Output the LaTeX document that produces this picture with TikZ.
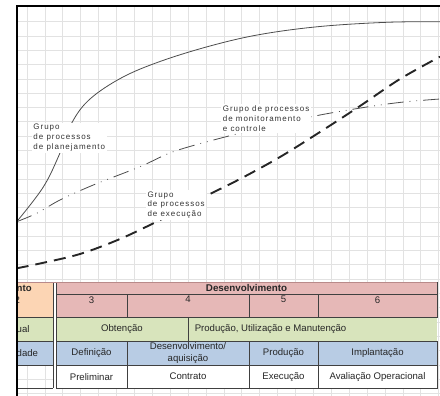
\documentclass[tikz,border=0pt]{standalone}
\usepackage{fontspec}
\setmainfont{Liberation Sans}
\newfontfamily\grupofont[LetterSpace=12]{Liberation Sans}
\usepackage{tikz}
\usetikzlibrary{positioning}
\definecolor{cellpink}{HTML}{E6B8B7}
\definecolor{cellorange}{HTML}{FCD5B4}
\definecolor{cellgreen}{HTML}{D8E4BC}
\definecolor{cellblue}{HTML}{B8CCE4}
\definecolor{gridgray}{HTML}{E2E2E2}
\definecolor{tabline}{HTML}{404040}
\definecolor{rosa}{HTML}{B98A8A}

\begin{document}
\begin{tikzpicture}[x=1pt,y=-1pt,
    cell/.style={draw=tabline,line width=0.8pt,inner sep=0pt,align=center,
      text=black!85,font=\fontsize{9.6}{11.6}\selectfont},
    tabtxt/.style={inner sep=0pt,text=black!85,font=\fontsize{9.6}{11.6}\selectfont},
    grupo/.style={fill=white,inner sep=1.5pt,anchor=north west,align=left,
      text=black!80,font=\grupofont\fontsize{8}{9.8}\selectfont}]
  \useasboundingbox (0,0) rectangle (440,396);
  % grade da planilha
  \foreach \i in {0,...,23}
    \draw[gridgray,line width=0.7pt] (27+17.9*\i,6) -- (27+17.9*\i,396);
  \foreach \j in {1,...,27}
    \draw[gridgray,line width=0.7pt] (16,7.4+14.3*\j) -- (440,7.4+14.3*\j);

  % curvas dos grupos de processos
  \draw[black!70,line width=0.8pt] plot[smooth,tension=0.6] coordinates {
    (16.7,221.7) (43.3,187) (60,153) (72.3,122) (90,99) (121.7,77.7)
    (160,61.5) (210,46) (260,34.5) (320,26.5) (387,22.3) (440,21.7)};
  \draw[black!70,line width=0.8pt,
    dash pattern=on 16pt off 6pt on 0.8pt off 6pt on 0.8pt off 6pt]
    plot[smooth,tension=0.55] coordinates {
    (16.7,221.7) (36.7,213.3) (60,200) (93.3,185) (140,166.7)
    (173.3,151.7) (220,138.3) (270,126) (320,115) (373.3,106)
    (406.7,101.7) (440,99)};
  \draw[black!85,line width=1.9pt,dash pattern=on 12pt off 7pt]
    plot[smooth,tension=0.55] coordinates {
    (16.7,268.3) (40,263.5) (80,254) (120,239) (160,220) (200,199) (240,179)
    (280,157) (320,132) (360,106) (400,79) (440,56.7)};

  \node[grupo] (planej) at (31.8,122.6) {Grupo\\de processos\\de planejamento};
  \node[grupo] (monit) at (221.2,104.2) {Grupo de processos\\de monitoramento\\e controle};
  \node[grupo] (exec) at (145.8,189.9) {Grupo\\de processos\\de execução};

  % tabela: parte cortada a esquerda
  \fill[cellorange] (16,282) rectangle (53.3,317.7);
  \fill[cellgreen] (16,317.7) rectangle (53.3,341);
  \fill[cellblue] (16,341) rectangle (53.3,365);
  \fill[white] (53.3,282) rectangle (56,388.3);
  \foreach \y in {317.7,341,365,388.3}
    \draw[tabline,line width=0.8pt] (16,\y) -- (53.3,\y);
  \draw[tabline,line width=0.8pt] (53.3,282) -- (53.3,388.3);
  \node[tabtxt,anchor=west,font=\bfseries\fontsize{9.6}{11.6}\selectfont] (nto) at (16.5,288) {nto};
  \node[tabtxt,anchor=west] (dois) at (14.5,300.5) {2};
  \node[tabtxt,anchor=west] (ual) at (16.5,329.35) {ual};
  \node[tabtxt,anchor=west] (dade) at (16.5,353) {dade};

  % tabela: fases
  \node[cell,fill=cellgreen,draw=none,minimum width=249,minimum height=23.3] (prodcel) at (312.5,329.35) {};
  \node[tabtxt,right=7pt of prodcel.west] (pum) {Produção, Utilização e Manutenção};
  \node[cell,fill=cellgreen,minimum width=132,minimum height=23.3] (obt) at (122,329.35) {Obtenção};

  \node[cell,fill=cellpink,minimum width=381,minimum height=12,
    font=\bfseries\fontsize{9.8}{11}\selectfont] (desenv) at (246.5,288) {Desenvolvimento};

  \node[cell,fill=cellpink,minimum width=71,minimum height=23.7] (c3) at (91.5,305.85) {};
  \node[cell,fill=cellpink,minimum width=122,minimum height=23.7] (c4) at (188,305.85) {};
  \node[cell,fill=cellpink,minimum width=69,minimum height=23.7] (c5) at (283.5,305.85) {};
  \node[cell,fill=cellpink,minimum width=119,minimum height=23.7] (c6) at (377.5,305.85) {};
  \node[tabtxt,below=2.5pt of c3.north] (n3) {3};
  \node[tabtxt,below=2.5pt of c4.north] (n4) {4};
  \node[tabtxt,below=2.5pt of c5.north] (n5) {5};
  \node[tabtxt,below=2.5pt of c6.north] (n6) {6};

  \node[cell,fill=cellblue,minimum width=71,minimum height=24] (defin) at (91.5,353) {Definição};
  \node[cell,fill=cellblue,minimum width=122,minimum height=24,
    font=\fontsize{9.6}{12.3}\selectfont] (desaq) at (188,353) {Desenvolvimento/\\aquisição};
  \node[cell,fill=cellblue,minimum width=69,minimum height=24] (prod) at (283.5,353) {Produção};
  \node[cell,fill=cellblue,minimum width=119,minimum height=24] (impl) at (377.5,353) {Implantação};

  \node[cell,fill=white,minimum width=71,minimum height=23.3] (prelim) at (91.5,376.65) {Preliminar};
  \node[cell,fill=white,minimum width=122,minimum height=23.3] (contr) at (188,376.65) {Contrato};
  \node[cell,fill=white,minimum width=69,minimum height=23.3] (execu) at (283.5,376.65) {Execução};
  \node[cell,fill=white,minimum width=119,minimum height=23.3] (aval) at (377.5,376.65) {Avaliação Operacional};

  \draw[rosa,line width=0.9pt] (16,282) -- (437,282);

  % moldura do grafico
  \fill[white] (0,0) rectangle (15.9,396);
  \fill[white] (15.9,0) rectangle (440,5.1);
  \draw[line width=2pt] (16.8,396) -- (16.8,6.2) -- (440,6.2);
\end{tikzpicture}
\end{document}
